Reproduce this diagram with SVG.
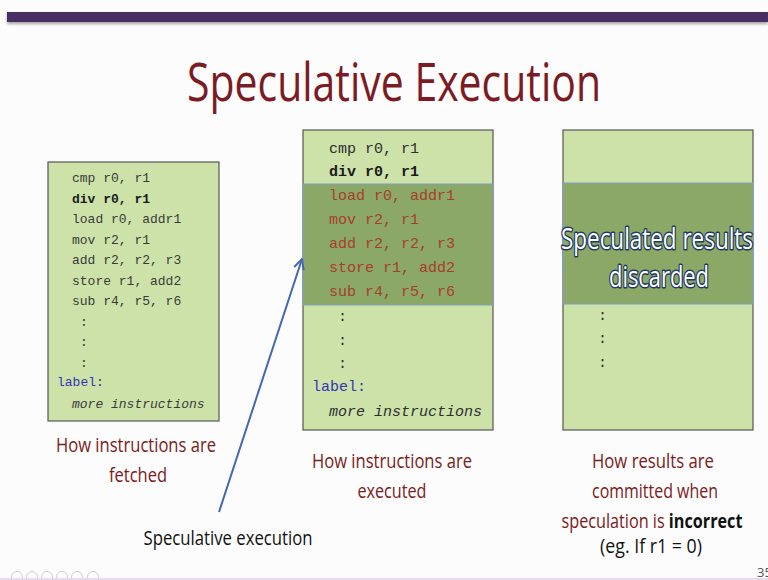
<svg xmlns="http://www.w3.org/2000/svg" width="768" height="580" viewBox="0 0 768 580">
  <defs>
    <marker id="arr" viewBox="0 0 12 12" refX="11" refY="6" markerWidth="12" markerHeight="12" markerUnits="userSpaceOnUse" orient="auto">
      <path d="M1,1 L11,6 L1,11" fill="none" stroke="#4468b0" stroke-width="2"/>
    </marker>
    <filter id="sh" x="-5%" y="-50%" width="110%" height="250%">
      <feDropShadow dx="0" dy="2" stdDeviation="1.5" flood-color="#000" flood-opacity="0.35"/>
    </filter>
  </defs>
  <style>
    .box { fill: #cde2a9; stroke: #555; stroke-width: 1.2; }
    .band { fill: #8ca866; stroke: #7fa0c4; stroke-width: 1; }
    .code1 { font-family: "Liberation Mono", "DejaVu Sans Mono", monospace; font-size: 13px; fill: #3a3a3a; }
    .code2 { font-family: "Liberation Mono", "DejaVu Sans Mono", monospace; font-size: 15px; fill: #2e2e2e; }
    .red { fill: #a5402c; }
    .lbl { fill: #3434b4; font-style: normal; }
    .b { font-weight: bold; fill: #1a1a1a; }
    .it { font-style: italic; }
    .cap { font-family: "Open Sans", "Noto Sans", sans-serif; font-size: 20px; fill: #7a2020; text-anchor: middle; }
    .blk { fill: #111; }
    .ov { font-family: "Open Sans", "Noto Sans", sans-serif; font-size: 29px; fill: #ffffff; stroke: #1f3864; stroke-width: 3; paint-order: stroke; text-anchor: middle; stroke-linejoin: round; }
    .ic { fill: none; stroke: #cfcfcf; stroke-width: 1; }
  </style>
  <rect x="0" y="0" width="768" height="580" fill="#fcfcfc"/>
  <rect x="7" y="12" width="761" height="10" fill="#4a2d63" filter="url(#sh)"/>
  <g id="title">
    <text x="394" y="101" font-family="Open Sans, Noto Sans, sans-serif" font-size="53" fill="#7b1c24" text-anchor="middle" textLength="414" lengthAdjust="spacingAndGlyphs">Speculative Execution</text>
  </g>

  <g id="box-fetched">
    <rect class="box" x="48" y="162" width="171" height="259"/>
    <g class="code1" xml:space="preserve">
      <text x="72" y="182">cmp r0, r1</text>
      <text x="72" y="203" class="b">div  r0, r1</text>
      <text x="72" y="223">load r0, addr1</text>
      <text x="72" y="244">mov r2, r1</text>
      <text x="72" y="264">add r2, r2, r3</text>
      <text x="72" y="285">store r1, add2</text>
      <text x="72" y="305">sub r4, r5, r6</text>
      <text x="80" y="326">:</text>
      <text x="80" y="346">:</text>
      <text x="80" y="367">:</text>
      <text x="57" y="386" class="lbl">label:</text>
      <text x="72" y="408" class="it">more instructions</text>
    </g>
  </g>

  <g id="box-executed">
    <rect class="box" x="303" y="130" width="190" height="300"/>
    <rect class="band" x="303" y="184" width="190" height="121"/>
    <g class="code2" xml:space="preserve">
      <text x="329" y="153">cmp r0, r1</text>
      <text x="329" y="176" class="b">div r0, r1</text>
      <text x="329" y="200" class="red">load r0, addr1</text>
      <text x="329" y="224" class="red">mov r2, r1</text>
      <text x="329" y="248" class="red">add r2, r2, r3</text>
      <text x="329" y="272" class="red">store r1, add2</text>
      <text x="329" y="296" class="red">sub r4, r5, r6</text>
      <text x="338" y="321">:</text>
      <text x="338" y="345">:</text>
      <text x="338" y="368">:</text>
      <text x="312" y="391" class="lbl">label:</text>
      <text x="329" y="416" class="it">more instructions</text>
    </g>
  </g>

  <g id="box-committed">
    <rect class="box" x="563" y="130" width="190" height="300"/>
    <rect class="band" x="563" y="183" width="190" height="121"/>
    <g class="code2">
      <text x="598" y="320">:</text>
      <text x="598" y="343">:</text>
      <text x="598" y="367">:</text>
    </g>
    <text class="ov" x="657" y="249" textLength="192" lengthAdjust="spacingAndGlyphs">Speculated results</text>
    <text class="ov" x="659" y="287" textLength="100" lengthAdjust="spacingAndGlyphs">discarded</text>
  </g>

  <g id="connectors">
    <line x1="219" y1="512" x2="302" y2="259" stroke="#4468b0" stroke-width="2" marker-end="url(#arr)"/>
  </g>

  <g id="caption-fetched">
    <text class="cap" x="136" y="452" textLength="160" lengthAdjust="spacingAndGlyphs">How instructions are</text>
    <text class="cap" x="138" y="482" textLength="58" lengthAdjust="spacingAndGlyphs">fetched</text>
  </g>
  <g id="caption-executed">
    <text class="cap" x="392" y="468" textLength="160" lengthAdjust="spacingAndGlyphs">How instructions are</text>
    <text class="cap" x="392" y="498" textLength="69" lengthAdjust="spacingAndGlyphs">executed</text>
  </g>
  <g id="caption-committed">
    <text class="cap" x="653" y="468" textLength="122" lengthAdjust="spacingAndGlyphs">How results are</text>
    <text class="cap" x="655" y="498" textLength="126" lengthAdjust="spacingAndGlyphs">committed when</text>
    <text class="cap" x="652" y="528" textLength="181" lengthAdjust="spacingAndGlyphs">speculation is <tspan class="blk" font-weight="bold">incorrect</tspan></text>
    <text class="cap blk" x="651" y="553" textLength="102" lengthAdjust="spacingAndGlyphs">(eg. If r1 = 0)</text>
  </g>
  <g id="label-speculative">
    <text class="cap blk" x="228" y="545" textLength="169" lengthAdjust="spacingAndGlyphs">Speculative execution</text>
  </g>

  <g id="footer">
    <circle class="ic" cx="17" cy="577" r="5.5"/>
    <circle class="ic" cx="32" cy="577" r="5.5"/>
    <circle class="ic" cx="47" cy="577" r="5.5"/>
    <circle class="ic" cx="62" cy="577" r="5.5"/>
    <circle class="ic" cx="77" cy="577" r="5.5"/>
    <circle class="ic" cx="93" cy="577" r="5.5"/>
    <rect x="0" y="578" width="768" height="2" fill="#e6dcef"/>
    <text x="757" y="577" font-family="Open Sans, Noto Sans, sans-serif" font-size="13" fill="#555">35</text>
  </g>
</svg>
